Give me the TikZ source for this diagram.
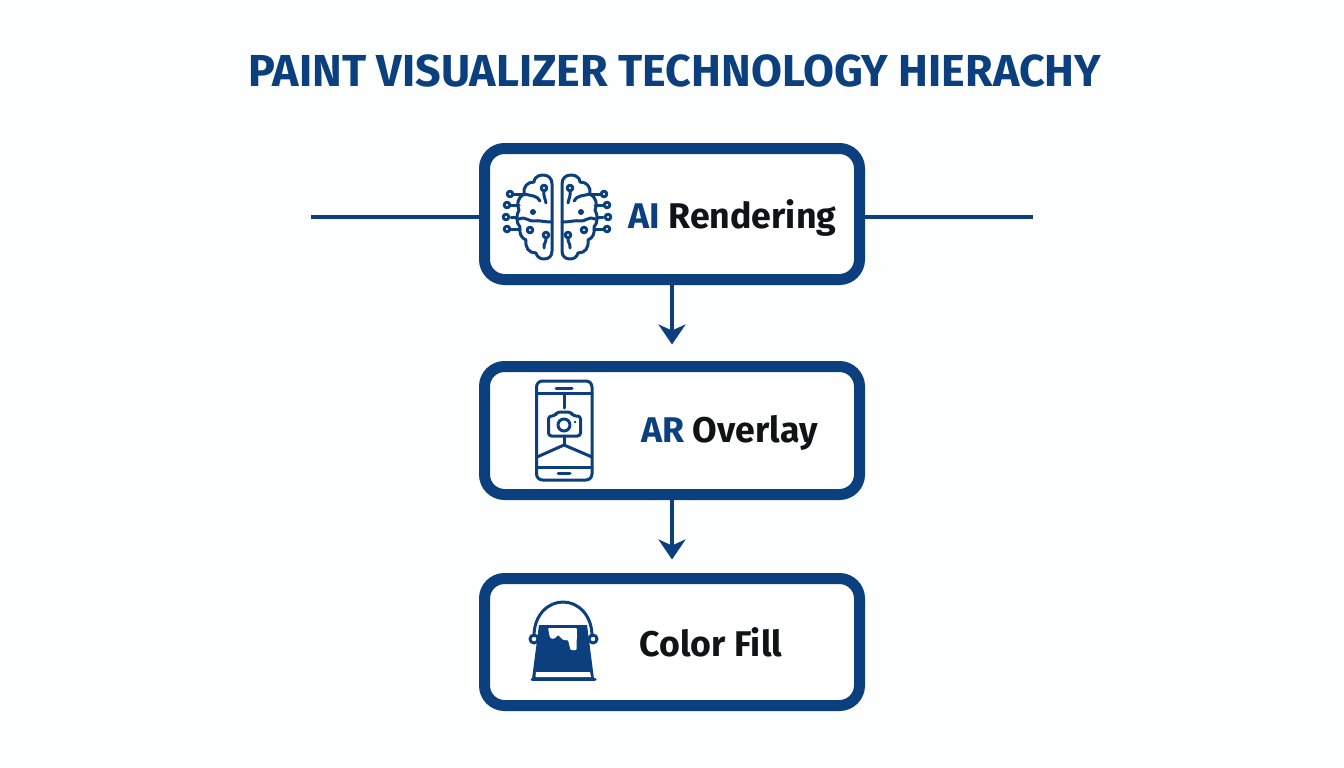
\documentclass[tikz,border=0pt]{standalone}
\usepackage{fontspec}
\setmainfont{Fira Sans}
\definecolor{navy}{HTML}{0B3F7E}
\definecolor{ink}{HTML}{111316}
\definecolor{paper}{HTML}{FDFEFE}
\tikzset{
    tierbox/.style={draw=navy,fill=white,line width=11pt,rounded corners=20pt,minimum width=375pt},
    tierlabel/.style={text=ink,font=\fontsize{35.7}{36}\selectfont\bfseries,anchor=center,inner sep=0pt},
    joinline/.style={draw=navy,line width=3.5pt},
    flowarrow/.style={draw=navy,line width=4.5pt,-{Stealth[length=20pt,width=27pt,inset=6pt]}},
    iconline/.style={draw=navy,line width=3pt,line cap=round,line join=round},
}
\usetikzlibrary{arrows.meta}
\begin{document}
\begin{tikzpicture}[x=1pt,y=-1pt]
    \fill[paper] (0,0) rectangle (1344,768);
    \useasboundingbox (0,0) rectangle (1344,768);

    \node (title) at (675,71)[text=navy,font=\fontsize{44.8}{45}\selectfont\bfseries,inner sep=0pt]{PAINT VISUALIZER TECHNOLOGY HIERACHY};

    \node (render) at (672,214)[tierbox,minimum height=131pt]{};
    \node (overlay) at (672,430.5)[tierbox,minimum height=128pt]{};
    \node (fill) at (672,642)[tierbox,minimum height=127pt]{};

    \node (rendertext) at (732.5,218)[tierlabel]{\textcolor{navy}{AI} Rendering};
    \node (overlaytext) at (729.5,433)[tierlabel]{\textcolor{navy}{AR} Overlay};
    \node (filltext) at (711,642)[tierlabel]{Color Fill};

    \coordinate (leftend) at (311,217);
    \coordinate (rightend) at (1033,217);
    \coordinate (overlaytip) at (672,344.5);
    \coordinate (filltip) at (672,559.5);
    \draw[joinline] (leftend) -- (leftend -| render.west);
    \draw[joinline] (rightend) -- (rightend -| render.east);
    \draw[flowarrow] (render.south) -- (overlaytip);
    \draw[flowarrow] (overlay.south) -- (filltip);

    % brain
    \foreach \s in {1,-1} {
        \begin{scope}[shift={(557,217)},xscale=\s,iconline]
            \draw (-5,-33) .. controls (-5,-39) and (-9,-42) .. (-14,-42)
                .. controls (-19,-42) and (-23,-39) .. (-23,-35)
                .. controls (-30,-35) and (-34,-30) .. (-33,-23)
                .. controls (-39,-20) and (-41,-12) .. (-38,-7)
                .. controls (-41,-2) and (-41,6) .. (-37,10)
                .. controls (-38,16) and (-36,21) .. (-31,23)
                .. controls (-32,31) and (-28,36) .. (-21,36)
                .. controls (-20,40) and (-17,42) .. (-13,42)
                .. controls (-8,42) and (-5,39) .. (-5,34) -- cycle;
            \foreach \y/\r in {-23/33, -12/38, 0/40, 12/37} {
                \draw (-\r,\y) -- (-46,\y);
            }
            \foreach \p in {(-47,-23),(-50,-12),(-51,0),(-50,12),(-13,-29),(-27,13),(-11,18)} {
                \draw[fill=white] \p circle (2.8);
            }
            \fill[navy] (-24,-5) circle (3);
            \draw (-13,-27) .. controls (-14,-22) and (-12,-19) .. (-11,-14);
            \draw (-38,2) .. controls (-31,-1) and (-28,5) .. (-23,4) .. controls (-18,3) and (-14,5) .. (-5,5);
            \draw (-11,20) .. controls (-10,25) and (-14,27) .. (-13,31);
            \draw (-33,-23) .. controls (-26,-21) and (-20,-22) .. (-17,-16);
        \end{scope}
    }

    % phone
    \draw[iconline,rounded corners=6pt] (536.5,381) rectangle (592,480);
    \draw[iconline] (537,393) -- (592,393);
    \draw[iconline] (537,467) -- (592,467);
    \draw[iconline] (556,388) -- (572,388);
    \draw[iconline] (558,473.5) -- (570,473.5);
    \draw[iconline] (564,393) -- (564,408);
    \draw[iconline,rounded corners=3pt] (548.5,416) -- (555,416) -- (557,412) -- (571,412) -- (573,416) -- (580.5,416) -- (580.5,436) -- (548.5,436) -- cycle;
    \draw[iconline] (564,425) circle (6);
    \fill[navy] (575,422) circle (1.4);
    \draw[iconline] (564,436) -- (564,445);
    \draw[iconline] (537,457) -- (564,445) -- (592,457);

    % bucket
    \draw[iconline] (534,636) .. controls (534,615) and (548,602) .. (563,602) .. controls (578,602) and (592,615) .. (592,636);
    \draw[iconline] (534,639) circle (4);
    \draw[iconline] (593,639) circle (4);
    \fill[navy] (539,625) -- (587,625) -- (594,679) -- (532,679) -- cycle;
    \fill[white] (536,672) -- (590,672) -- (591,677) -- (535.5,677) -- cycle;
    \fill[white,rounded corners=1pt] (548,628) -- (577,628) -- (576.5,650) -- (570.5,650) -- (568,640) -- (563,640) -- (558,635) -- (554,639) -- (550,638) -- cycle;
    \draw[iconline] (532,679) -- (595,679);
\end{tikzpicture}
\end{document}
